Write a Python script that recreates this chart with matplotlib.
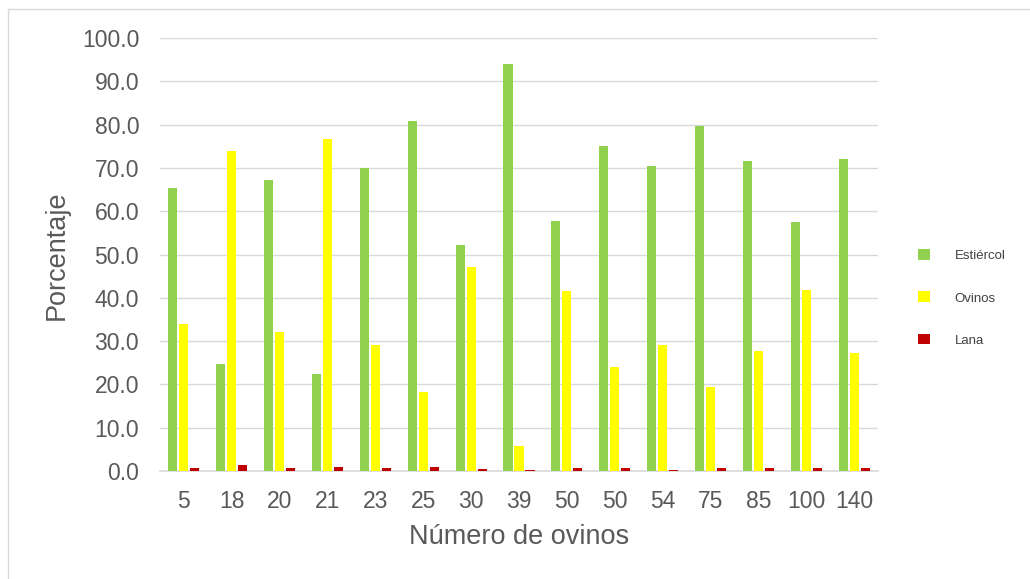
import matplotlib
matplotlib.use("Agg")
import matplotlib.pyplot as plt
import numpy as np
from matplotlib.patches import Rectangle

categorias = ["5", "18", "20", "21", "23", "25", "30", "39", "50", "50", "54", "75", "85", "100", "140"]
estiercol = [65.3, 24.6, 67.2, 22.3, 70.0, 80.9, 52.3, 94.0, 57.8, 75.1, 70.5, 79.7, 71.6, 57.6, 72.0]
ovinos = [33.9, 73.9, 32.0, 76.6, 29.1, 18.2, 47.0, 5.8, 41.5, 24.0, 29.1, 19.5, 27.6, 41.8, 27.2]
lana = [0.7, 1.5, 0.7, 0.9, 0.8, 0.9, 0.5, 0.2, 0.6, 0.8, 0.3, 0.8, 0.8, 0.6, 0.8]
yticks = [0, 10, 20, 30, 40, 50, 60, 70, 80, 90, 100]

plt.rcParams['font.family'] = ['Liberation Sans', 'DejaVu Sans']
txt = "#595959"

fig = plt.figure(figsize=(10.30, 5.79), dpi=100)
ax = fig.add_axes([160/1030, 1 - 471/579, 718/1030, 433/579])

x = np.arange(len(categorias))
w = 0.19
step = 0.23
c_g, c_y, c_r = "#92D050", "#FFFF00", "#C00000"
ax.bar(x - step, estiercol, w, color=c_g, label="Estiércol", zorder=3)
ax.bar(x, ovinos, w, color=c_y, label="Ovinos", zorder=3)
ax.bar(x + step, lana, w, color=c_r, label="Lana", zorder=3)

ax.set_xlim(-0.5, len(categorias) - 0.5)
ax.set_ylim(0, 100)
ax.set_yticks(yticks)
ax.set_yticklabels([f"{v:.1f}" for v in yticks], fontsize=16.5, color=txt)
ax.set_xticks(x)
ax.set_xticklabels(categorias, fontsize=16.5, color=txt)
ax.tick_params(axis="y", length=0, pad=15)
ax.tick_params(axis="x", length=0, pad=14)
ax.grid(axis="y", color="#D9D9D9", linewidth=1, zorder=0)
for s in ["top", "right", "left"]:
    ax.spines[s].set_visible(False)
ax.spines["bottom"].set_color("#D9D9D9")
ax.spines["bottom"].set_linewidth(1.2)

fig.text(57/1030, 1 - 255/579, "Porcentaje", rotation=90, ha="center", va="center",
         fontsize=19.5, color=txt)
fig.text(519/1030, 1 - 537/579, "Número de ovinos", ha="center", va="center",
         fontsize=19.5, color=txt)

leg = fig.legend(loc="center left", bbox_to_anchor=(906/1030, 1 - 298/579), frameon=False,
                 fontsize=9.5, labelspacing=2.2, handlelength=0.9, handleheight=0.9, handletextpad=1.9,
                 labelcolor="#404040")

fig.patches.append(Rectangle((8/1030, -0.05), 1.1, 1 - 9/579 + 0.05, transform=fig.transFigure,
                             fill=False, edgecolor="#D9D9D9", linewidth=1))

fig.savefig("out.png", dpi=100)
